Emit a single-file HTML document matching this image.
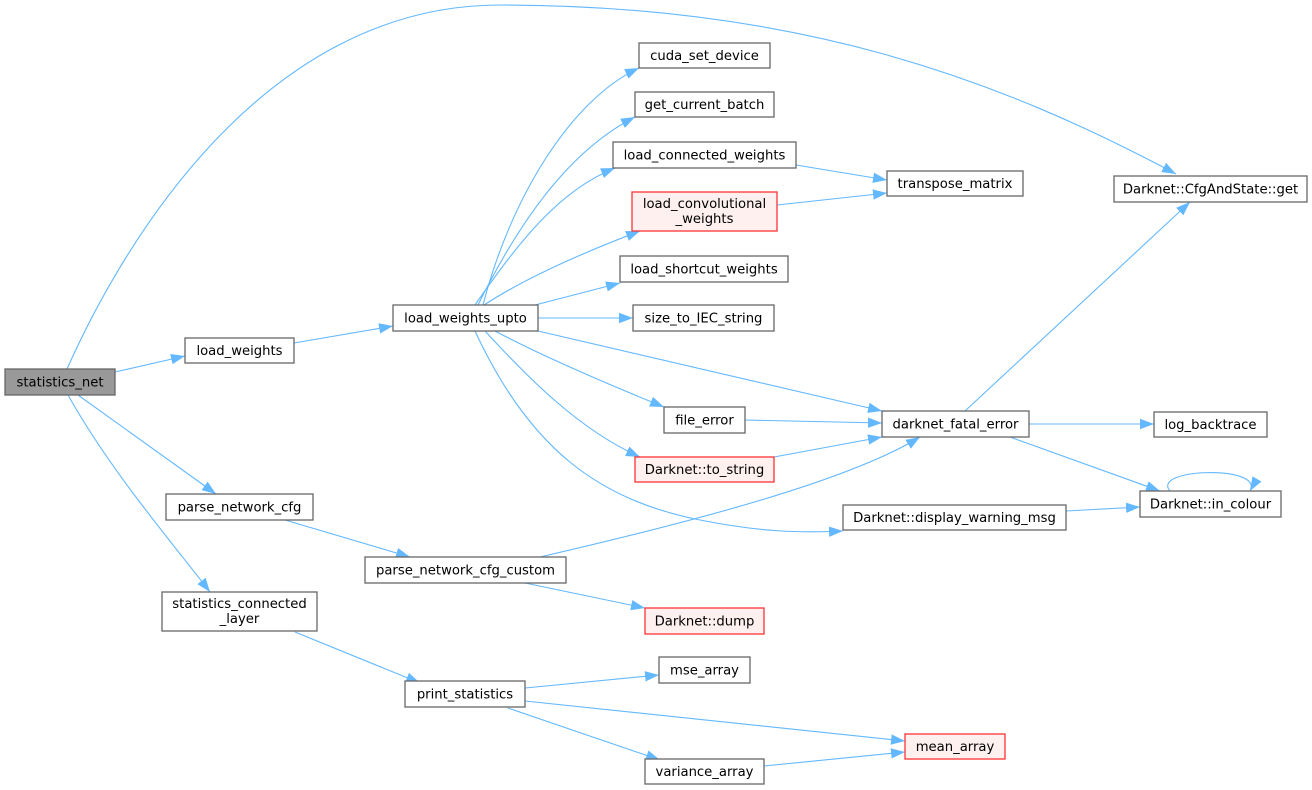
<!DOCTYPE html>
<html><head><meta charset="utf-8"><style>
html,body{margin:0;padding:0;background:#fff;}
svg{display:block;}
text{font-family:"DejaVu Sans","Liberation Sans",sans-serif;font-size:13.2px;fill:#000;}
.n{fill:#fff;stroke:#666;stroke-width:1.3;}
.r{fill:#fff0f0;stroke:#f33;stroke-width:1.3;}
.g{fill:#999;stroke:#666;stroke-width:1.3;}
.e{fill:none;stroke:#63b8ff;stroke-width:1.1;marker-end:url(#a);}
</style></head><body>
<svg width="1312" height="790" viewBox="0 0 1312 790" xmlns="http://www.w3.org/2000/svg">
<defs><marker id="a" markerUnits="userSpaceOnUse" markerWidth="16" markerHeight="12" refX="14" refY="6" orient="auto"><path d="M0,0.8 L14,6 L0,11.2 z" fill="#63b8ff"/></marker></defs>
<g>
<path class="e" d="M67,369 C120,250 260,5 500,5 C800,5 1000,80 1176,174"/>
<path class="e" d="M115,372 L185,356"/>
<path class="e" d="M78,395 L216,494"/>
<path class="e" d="M68,395 C110,470 170,540 210,592"/>
<path class="e" d="M294,343 L393,326"/>
<path class="e" d="M483,305 C510,200 570,100 639,68"/>
<path class="e" d="M478,305 C520,220 570,150 635,117"/>
<path class="e" d="M475,305 C520,240 560,190 615,168"/>
<path class="e" d="M484,305 C530,275 590,250 640,231"/>
<path class="e" d="M535,305 L620,283"/>
<path class="e" d="M538,318 L633,318"/>
<path class="e" d="M538,331 L882,411"/>
<path class="e" d="M495,331 C540,355 610,385 664,407"/>
<path class="e" d="M485,331 C530,380 580,430 640,457"/>
<path class="e" d="M475,331 C530,450 600,500 700,520 C760,532 800,533 843,531"/>
<path class="e" d="M796,165 L887,180"/>
<path class="e" d="M777,205 L887,193"/>
<path class="e" d="M745,420 L882,423"/>
<path class="e" d="M774,457 L882,437"/>
<path class="e" d="M285,520 L410,557"/>
<path class="e" d="M540,557 C700,520 850,480 920,437"/>
<path class="e" d="M525,583 L645,608"/>
<path class="e" d="M965,411 L1190,202"/>
<path class="e" d="M1029,424 L1154,424"/>
<path class="e" d="M1010,437 L1160,491"/>
<path class="e" d="M1066,511 L1140,507"/>
<path class="e" d="M1170,491 C1150,468 1265,465 1250,491"/>
<path class="e" d="M295,632 L420,683"/>
<path class="e" d="M525,688 L659,675"/>
<path class="e" d="M525,701 L905,741"/>
<path class="e" d="M508,708 L660,760"/>
<path class="e" d="M764,766 L905,752"/>
</g>
<g>
<rect class="g" x="5" y="369" width="110" height="26"/><text x="60" y="386.5" text-anchor="middle">statistics_net</text>
<rect class="n" x="185" y="338" width="109" height="25"/><text x="239.5" y="355" text-anchor="middle">load_weights</text>
<rect class="n" x="166" y="494" width="147" height="26"/><text x="239.5" y="511.5" text-anchor="middle">parse_network_cfg</text>
<rect class="n" x="162" y="592" width="155" height="39"/><text x="239.5" y="608" text-anchor="middle">statistics_connected</text><text x="239.5" y="623" text-anchor="middle">_layer</text>
<rect class="n" x="393" y="305" width="145" height="26"/><text x="465.5" y="322.5" text-anchor="middle">load_weights_upto</text>
<rect class="n" x="365" y="557" width="201" height="26"/><text x="465.5" y="574.5" text-anchor="middle">parse_network_cfg_custom</text>
<rect class="n" x="405" y="681" width="120" height="26"/><text x="465" y="698.5" text-anchor="middle">print_statistics</text>
<rect class="n" x="639" y="43" width="131" height="25"/><text x="704.5" y="60" text-anchor="middle">cuda_set_device</text>
<rect class="n" x="635" y="92" width="139" height="25"/><text x="704.5" y="109" text-anchor="middle">get_current_batch</text>
<rect class="n" x="613" y="142" width="183" height="26"/><text x="704.5" y="159.5" text-anchor="middle">load_connected_weights</text>
<rect class="r" x="632" y="192" width="145" height="39"/><text x="704.5" y="208" text-anchor="middle">load_convolutional</text><text x="704.5" y="223" text-anchor="middle">_weights</text>
<rect class="n" x="620" y="256" width="168" height="26"/><text x="704" y="273.5" text-anchor="middle">load_shortcut_weights</text>
<rect class="n" x="633" y="305" width="141" height="26"/><text x="703.5" y="322.5" text-anchor="middle">size_to_IEC_string</text>
<rect class="n" x="664" y="407" width="81" height="26"/><text x="704.5" y="424.5" text-anchor="middle">file_error</text>
<rect class="r" x="635" y="457" width="139" height="25"/><text x="704.5" y="474" text-anchor="middle">Darknet::to_string</text>
<rect class="r" x="645" y="608" width="119" height="26"/><text x="704.5" y="625.5" text-anchor="middle">Darknet::dump</text>
<rect class="n" x="659" y="657" width="91" height="26"/><text x="704.5" y="674.5" text-anchor="middle">mse_array</text>
<rect class="n" x="645" y="759" width="119" height="25"/><text x="704.5" y="776" text-anchor="middle">variance_array</text>
<rect class="n" x="887" y="171" width="136" height="25"/><text x="955" y="188" text-anchor="middle">transpose_matrix</text>
<rect class="n" x="882" y="411" width="147" height="26"/><text x="955.5" y="428.5" text-anchor="middle">darknet_fatal_error</text>
<rect class="n" x="843" y="505" width="223" height="25"/><text x="954.5" y="522" text-anchor="middle">Darknet::display_warning_msg</text>
<rect class="r" x="905" y="734" width="100" height="25"/><text x="955" y="751" text-anchor="middle">mean_array</text>
<rect class="n" x="1114" y="176" width="193" height="26"/><text x="1210.5" y="193.5" text-anchor="middle">Darknet::CfgAndState::get</text>
<rect class="n" x="1154" y="412" width="113" height="25"/><text x="1210.5" y="429" text-anchor="middle">log_backtrace</text>
<rect class="n" x="1140" y="491" width="141" height="26"/><text x="1210.5" y="508.5" text-anchor="middle">Darknet::in_colour</text>
</g>
</svg>
</body></html>
